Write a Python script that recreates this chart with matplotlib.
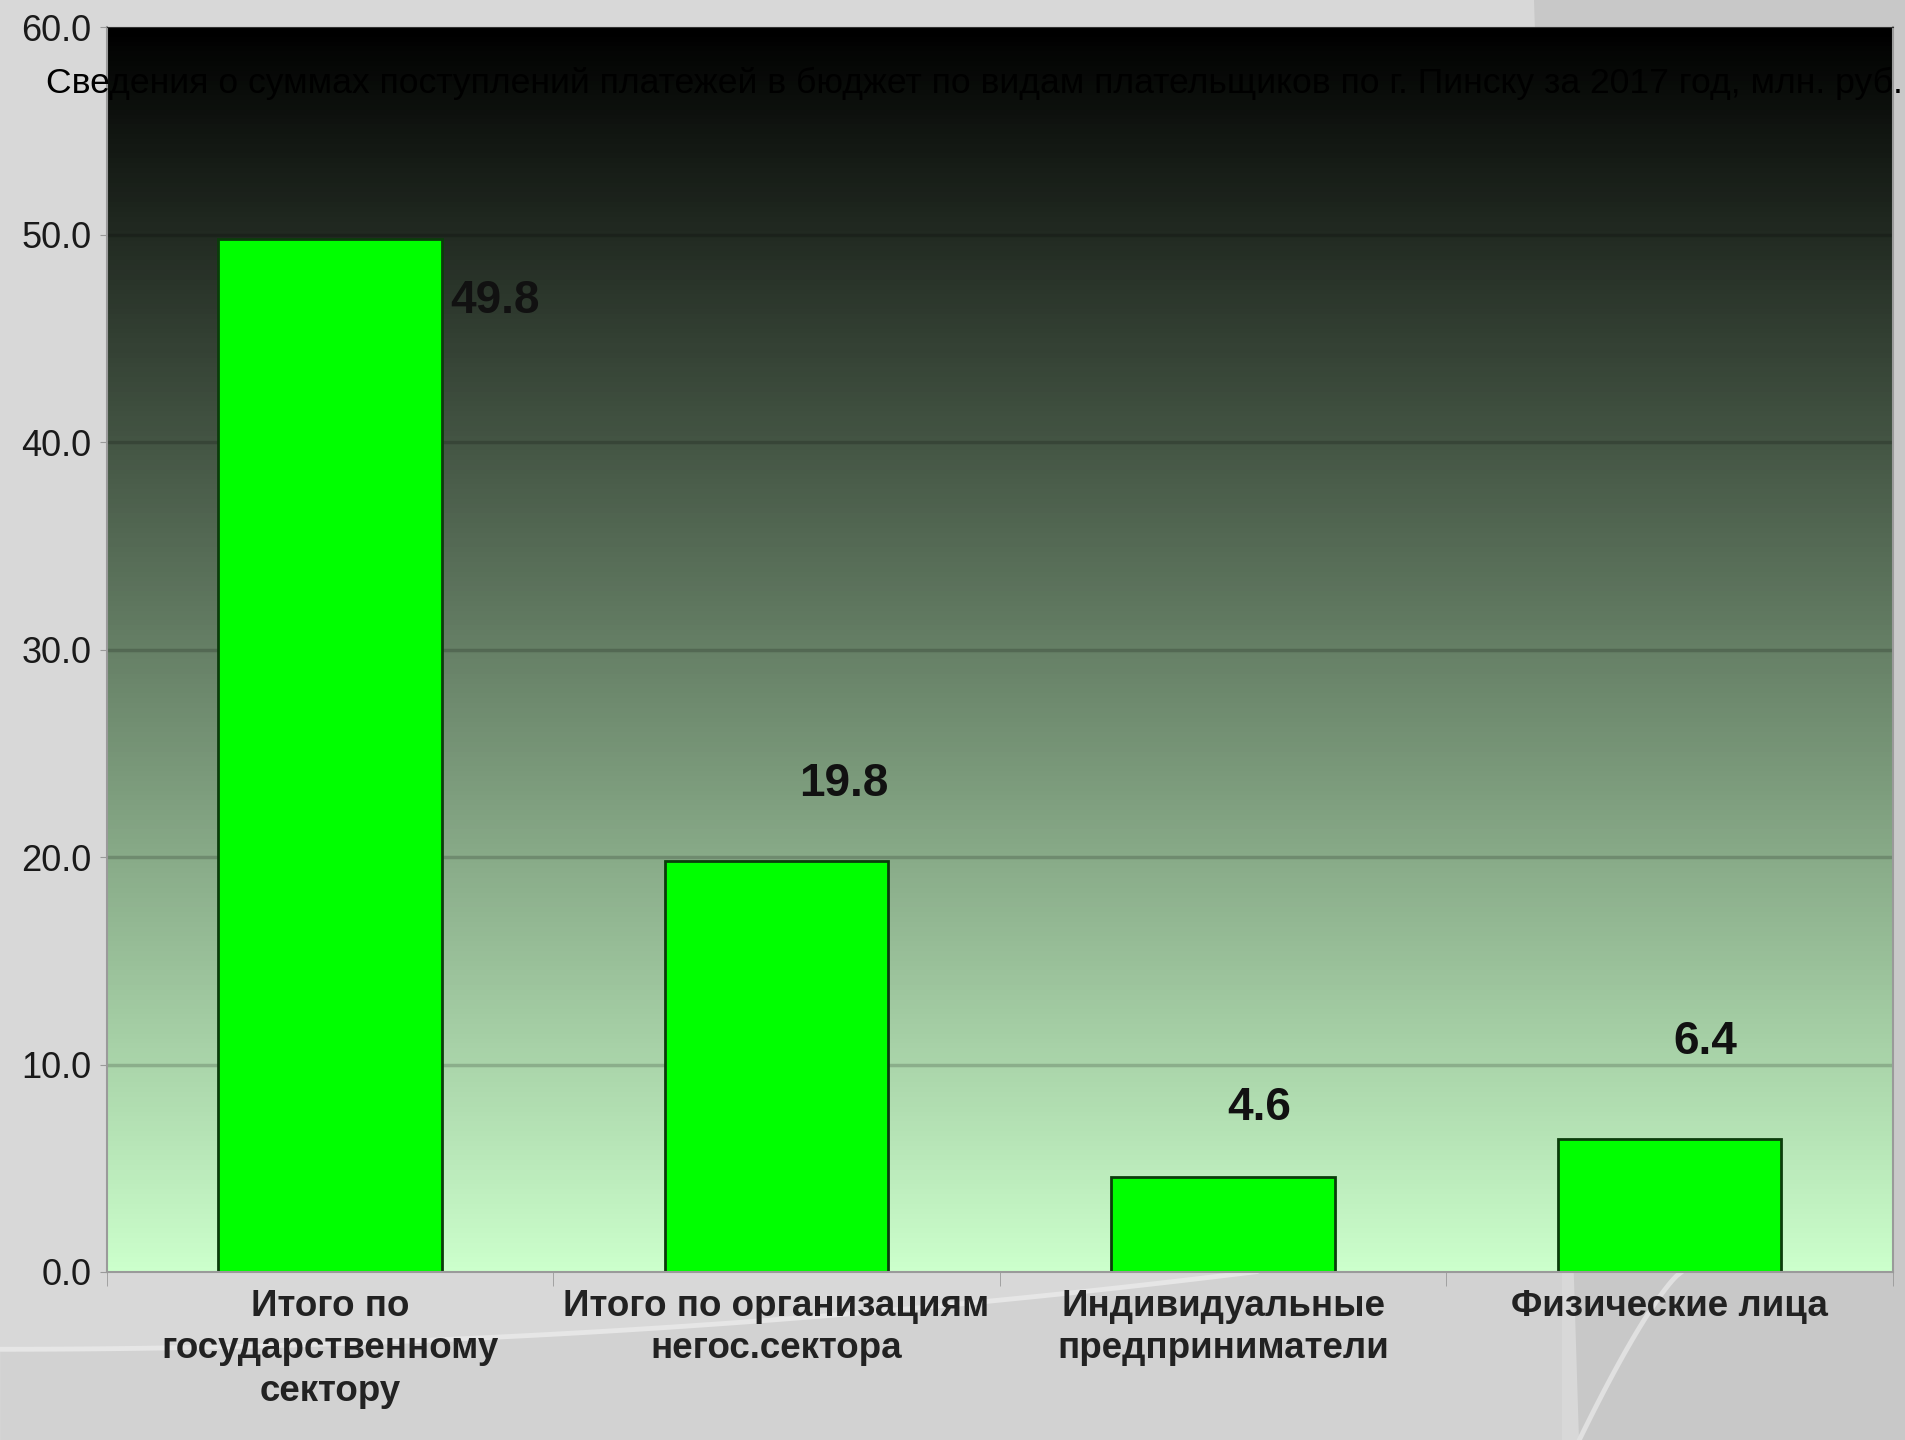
import matplotlib.pyplot as plt
import numpy as np
from matplotlib.colors import LinearSegmentedColormap
from matplotlib.patches import Polygon

# payments by payer type, mln rub
categories = ['Итого по\nгосударственному\nсектору',
              'Итого по организациям\nнегос.сектора',
              'Индивидуальные\nпредприниматели',
              'Физические лица']
values = [49.8, 19.8, 4.6, 6.4]
yticks = [0, 10, 20, 30, 40, 50, 60]
title = ('Сведения о суммах поступлений платежей в бюджет по видам '
         'плательщиков по г. Пинску за 2017 год, млн. руб.')

# where each value label sits relative to its bar top
label_dx = [0.37, 0.15, 0.08, 0.08]
label_dy = [-3.0, 3.7, 3.3, 4.7]

fig = plt.figure(figsize=(19.05, 14.4), dpi=100)
fig.patch.set_facecolor('#d8d8d8')

# slide background shapes
bg = fig.add_axes([0, 0, 1, 1], zorder=-5)
bg.set_xlim(0, 1)
bg.set_ylim(0, 1)
bg.axis('off')
bg.add_patch(Polygon([[0.805, 1.0], [1.0, 1.0], [1.0, 0.0], [0.829, 0.0]],
                     closed=True, color='#c8c8c8', lw=0))
t = np.linspace(0, 1, 80)
cx = 0.66 * t
cy = 0.063 + 0.054 * t ** 2
bg.fill_between(cx, 0.0, cy, color='#d2d2d2', lw=0)
bg.fill_between([0.66, 0.82], [0.0, 0.0], [0.117, 0.117], color='#d2d2d2', lw=0)
bg.plot(cx, cy, color='#e6e6e6', lw=3.5, solid_capstyle='round')
s = np.linspace(0, 1, 40)
bg.plot(0.883 - 0.054 * s ** 0.8, 0.117 * (1 - s), color='#e0e0e0', lw=3.5)

ax = fig.add_axes([0.056, 0.1167, 0.9377, 0.8643])
x = np.arange(len(values))
ax.set_xlim(-0.5, len(values) - 0.5)
ax.set_ylim(yticks[0], yticks[-1])

# black to pale green fill behind the bars
cmap = LinearSegmentedColormap.from_list('bg', ['#ccffcc', '#000000'])
grad = np.linspace(0, 1, 256).reshape(-1, 1)
ax.imshow(grad, cmap=cmap, origin='lower', aspect='auto',
          extent=[-0.5, len(values) - 0.5, yticks[0], yticks[-1]], zorder=0)

for yv in yticks[1:-1]:
    ax.axhline(yv, color='black', alpha=0.18, lw=2.5, zorder=1)

ax.bar(x, values, width=0.5, color='#00ff00', edgecolor='#0b3d0b',
       linewidth=2, zorder=2)

for i, v in enumerate(values):
    ax.text(x[i] + label_dx[i], v + label_dy[i], f'{v:.1f}',
            ha='center', va='center', fontsize=33, fontweight='bold',
            family=['Liberation Sans', 'DejaVu Sans'], color='#111111', zorder=3)

ax.set_yticks(yticks)
ax.set_yticklabels([f'{v:.1f}' for v in yticks],
                   family=['Liberation Sans', 'DejaVu Sans'], fontsize=26,
                   color='#1a1a1a')
ax.set_xticks(x)
ax.set_xticklabels(categories, family=['Liberation Sans', 'DejaVu Sans'],
                   fontsize=26.5, fontweight='bold', color='#222222',
                   linespacing=1.28)
ax.set_xticks(np.arange(-0.5, len(values)), minor=True)
ax.tick_params(axis='x', which='major', length=0, pad=12)
ax.tick_params(axis='x', which='minor', length=10, color='#999999')
ax.tick_params(axis='y', length=5, color='#999999', pad=6)

for side in ['left', 'bottom', 'right']:
    ax.spines[side].set_color('#9a9a9a')
    ax.spines[side].set_linewidth(1.5)
ax.spines['top'].set_color('#333333')

# long title squeezed across the top of the plot
txt = fig.text(0.024, 0.942, title, ha='left', va='center', fontsize=30,
               family=['Liberation Sans', 'DejaVu Sans'], color='black')
fig.canvas.draw()
w = txt.get_window_extent().width
txt.set_fontsize(30 * 1852 / w)

fig.savefig('out.png', dpi=100, facecolor=fig.get_facecolor())
